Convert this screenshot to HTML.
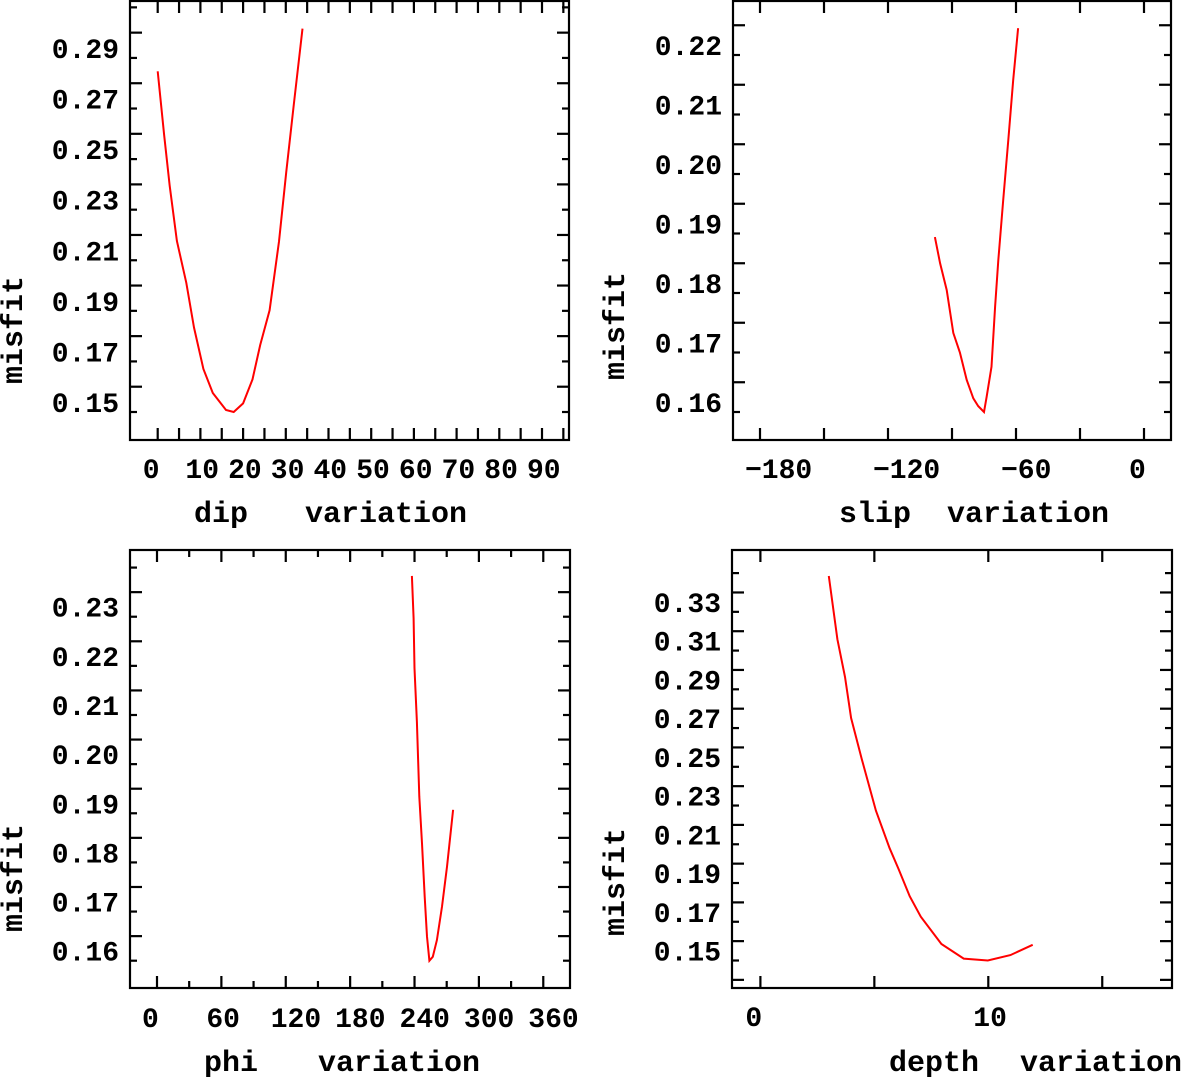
<!DOCTYPE html>
<html><head><meta charset="utf-8"><style>
html,body{margin:0;padding:0;background:#fff;}
svg{display:block;}
text{font-family:"Liberation Mono",monospace;fill:#000;}
.tick{font-size:28px;font-weight:bold;}
.ttl{font-size:30px;font-weight:bold;}
</style></head><body>
<svg id="fig" width="1183" height="1077" viewBox="0 0 1183 1077" xmlns="http://www.w3.org/2000/svg"></svg>
<script>
// ---- data: dip panel ----
const dipX = [0,1.5,2.8,4.5,6.7,8.5,10.7,12.9,16,17.8,20,22.2,24,26.2,28.4,30.1,31.9,33.9];
const dipY = [0.2847,0.2597,0.2394,0.2176,0.2011,0.1834,0.167,0.1575,0.1508,0.15,0.1534,0.1629,0.1765,0.1902,0.2174,0.2447,0.2719,0.3016];
const dipXTicks = [0,10,20,30,40,50,60,70,80,90];
const dipYTicks = [0.15,0.17,0.19,0.21,0.23,0.25,0.27,0.29];
// ---- data: slip panel ----
const slipX = [-98,-95.6,-92.5,-89.4,-86.3,-83.1,-80,-77.7,-75,-73.8,-71.5,-69.8,-68.3,-66,-63.6,-61.3,-59];
const slipY = [0.1894,0.185,0.1805,0.1733,0.170,0.1654,0.1623,0.161,0.160,0.1625,0.1676,0.1777,0.1855,0.1956,0.2057,0.2158,0.2245];
const slipXTicks = [-180,-120,-60,0];
const slipYTicks = [0.16,0.17,0.18,0.19,0.20,0.21,0.22];
// ---- data: phi panel ----
const phiX = [237.6,239.1,240,242.2,244.5,247,249.5,251.6,253.9,257,260.9,265.6,270.3,276];
const phiY = [0.2383,0.2297,0.2195,0.2086,0.1934,0.1839,0.173,0.1649,0.160,0.1608,0.1642,0.171,0.1791,0.1907];
const phiXTicks = [0,60,120,180,240,300,360];
const phiYTicks = [0.16,0.17,0.18,0.19,0.20,0.21,0.22,0.23];
// ---- data: depth panel ----
const depthX = [3.0,3.38,3.71,3.98,4.45,5.07,5.67,6.06,6.55,7.04,7.94,8.92,9.98,10.97,11.95];
const depthY = [0.3485,0.3158,0.2964,0.2752,0.2539,0.2274,0.208,0.1973,0.1832,0.1726,0.1585,0.151,0.150,0.1528,0.1581];
const depthXTicks = [0,10];
const depthYTicks = [0.15,0.17,0.19,0.21,0.23,0.25,0.27,0.29,0.31,0.33];

const NS='http://www.w3.org/2000/svg';
const svg=document.getElementById('fig');
function mk(tag,attrs,parent){const e=document.createElementNS(NS,tag);for(const k in attrs)e.setAttribute(k,attrs[k]);(parent||svg).appendChild(e);return e;}

function panel(p){
  const g=mk('g',{});
  
  
  const sx=v=>p.L+(v-p.x0)/(p.x1-p.x0)*(p.R-p.L);
  const sy=v=>p.B-(v-p.y0)/(p.y1-p.y0)*(p.B-p.T);
  const frame=mk('rect',{x:p.L,y:p.T,width:p.R-p.L,height:p.B-p.T,fill:'none',stroke:'#000','stroke-width':2.2},g);
  
  
  for(let v=p.xtStart; v<=p.x1+1e-9; v+=p.xtStep){
    const x=sx(v); if(x<p.L+4||x>p.R-4) continue;
    const major=Math.abs(((v-p.xtStart)/p.xtStep)%p.xtMajEvery)<1e-6; const len=major?12:7;
    mk('line',{x1:x,y1:p.B,x2:x,y2:p.B-len,stroke:'#000','stroke-width':2.2},g);
    mk('line',{x1:x,y1:p.T,x2:x,y2:p.T+len,stroke:'#000','stroke-width':2.2},g);
  }
  for(let v=p.ytStart; v<=p.y1+1e-9; v+=p.ytStep){
    const y=sy(v); if(y<p.T+4||y>p.B-4) continue;
    const major=Math.abs(Math.round((v-p.ytStart)/p.ytStep)%2)<1e-6; const len=major?12:7;
    mk('line',{x1:p.L,y1:y,x2:p.L+len,y2:y,stroke:'#000','stroke-width':2.2},g);
    mk('line',{x1:p.R,y1:y,x2:p.R-len,y2:y,stroke:'#000','stroke-width':2.2},g);
  }
  p.xt.forEach(v=>{
    const t=mk('text',{x:sx(v)-15,y:p.xLabY,class:'tick'},g); t.textContent=String(v).replace('-','\u2212');
    
    
  });
  p.yt.forEach(v=>{
    const t=mk('text',{x:p.L-11,y:sy(v),class:'tick','text-anchor':'end'},g); t.textContent=v.toFixed(2);
    
    
  });
  const t1=mk('text',{x:p.t1x,y:p.titY,class:'ttl'},g); t1.textContent=p.t1;
  
  
  const t2=mk('text',{x:p.t2x,y:p.titY,class:'ttl'},g); t2.textContent='variation';
  
  
  const yt=mk('text',{x:0,y:0,class:'ttl','text-anchor':'middle',transform:`translate(${p.mx},${p.my}) rotate(-90)`},g); yt.textContent='misfit';
  
  
  const d=p.xs.map((v,i)=>(i?'L':'M')+sx(v).toFixed(1)+','+sy(p.ys[i]).toFixed(1)).join(' ');
  const line=mk('path',{d:d,fill:'none',stroke:'#ff0000','stroke-width':2},g);
  
  
}

panel({name:'dip-panel',L:130,R:569,T:1,B:440,x0:-(157.7-130)/4.27,x1:(569-157.7)/4.27,
  y0:0.15-(440-412)/25.29*0.01,y1:0.15+(412-1)/25.29*0.01,
  xtStart:0,xtStep:5,xtMajEvery:1,ytStart:0.14,ytStep:0.01,
  xt:dipXTicks,yt:dipYTicks,xs:dipX,ys:dipY,xLabY:478,titY:522,t1:'dip',t1x:194,t2x:305,mx:22,my:330});
panel({name:'slip-panel',L:733,R:1171,T:1,B:440,x0:-180-(760-733)/2.133,x1:(1171-1144)/2.133,
  y0:0.16-(440-412)/59.5*0.01,y1:0.16+(412-1)/59.5*0.01,
  xtStart:-180,xtStep:30,xtMajEvery:1,ytStart:0.155,ytStep:0.005,
  xt:slipXTicks,yt:slipYTicks,xs:slipX,ys:slipY,xLabY:478,titY:522,t1:'slip',t1x:839,t2x:947,mx:624,my:326});
panel({name:'phi-panel',L:130,R:570,T:550,B:988,x0:-(157-130)/1.073,x1:(570-157)/1.073,
  y0:0.16-(988-960.7)/49.14*0.01,y1:0.16+(960.7-550)/49.14*0.01,
  xtStart:0,xtStep:30,xtMajEvery:2,ytStart:0.155,ytStep:0.005,
  xt:phiXTicks,yt:phiYTicks,xs:phiX,ys:phiY,xLabY:1027,titY:1071,t1:'phi',t1x:204,t2x:318,mx:22,my:878});
panel({name:'depth-panel',L:732,R:1172,T:550,B:988,x0:-(760.4-732)/22.79,x1:(1172-760.4)/22.79,
  y0:0.15-(988-960.5)/19.37*0.01,y1:0.15+(960.5-550)/19.37*0.01,
  xtStart:0,xtStep:5,xtMajEvery:1,ytStart:0.14,ytStep:0.01,
  xt:depthXTicks,yt:depthYTicks,xs:depthX,ys:depthY,xLabY:1026,titY:1071,t1:'depth',t1x:889,t2x:1020,mx:624,my:882});
</script>
</body></html>
